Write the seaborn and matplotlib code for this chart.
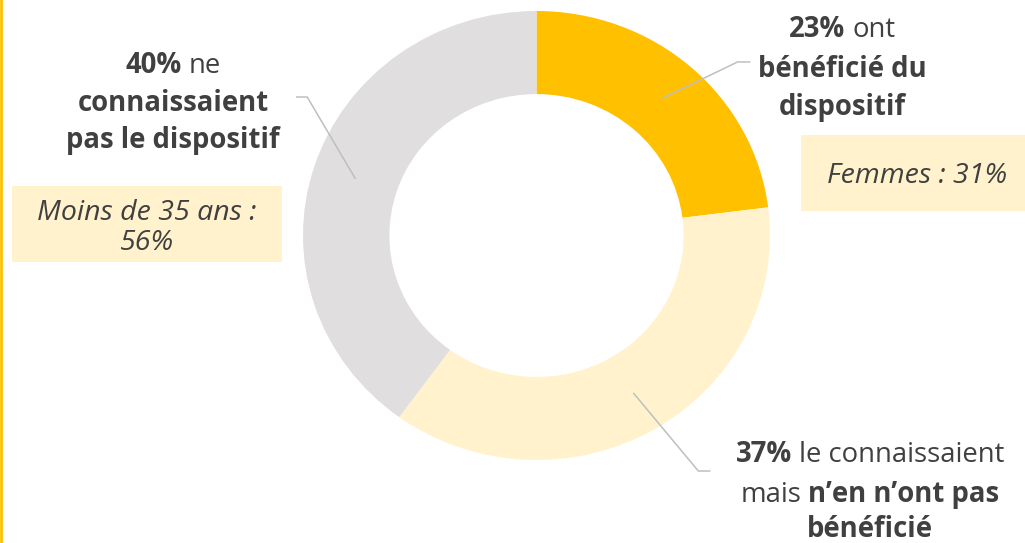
import matplotlib
matplotlib.use("Agg")
import matplotlib.pyplot as plt
import seaborn as sns
import numpy as np
from matplotlib.patches import Rectangle
from matplotlib.lines import Line2D

# ---- data ----
categories = ["Ont bénéficié du dispositif",
              "Le connaissaient mais n'en ont pas bénéficié",
              "Ne connaissaient pas le dispositif"]
values = [23, 37, 40]
colors = ["#FFC000", "#FFF2CC", "#E0DEDF"]

label_lines = [
    [[("23%", "bold"), (" ont", "normal")],
     [("bénéficié du", "bold")],
     [("dispositif", "bold")]],
    [[("37%", "bold"), (" le connaissaient", "normal")],
     [("mais ", "normal"), ("n’en n’ont pas", "bold")],
     [("bénéficié", "bold")]],
    [[("40%", "bold"), (" ne", "normal")],
     [("connaissaient", "bold")],
     [("pas le dispositif", "bold")]],
]
box_texts = ["Femmes : 31%", None, "Moins de 35 ans :\n56%"]

TXT = "#404040"
FONT = "Open Sans"

sns.set_theme(style="white")
plt.rcParams["font.family"] = [FONT, "DejaVu Sans"]

W, H = 1025, 543
fig = plt.figure(figsize=(W / 100, H / 100), dpi=100)
fig.patch.set_facecolor("white")

# donut axes (pixel placement)
cx, cy = 536.5, H - 235.5
rx, ry = 233.5, 224.5
ax = fig.add_axes([(cx - rx) / W, (cy - ry) / H, 2 * rx / W, 2 * ry / H])
wedges, _ = ax.pie(values, colors=colors, startangle=90, counterclock=False,
                   radius=1.0, wedgeprops=dict(width=0.37, linewidth=0))
ax.set_aspect("auto")
ax.set_xlim(-1, 1)
ax.set_ylim(-1, 1)
ax.axis("off")

# leader lines from wedge mid-angles
elbows = [((0.861, 0.773), 0.916), ((0.693, -1.049), 0.745), ((-0.982, 0.617), -1.03)]
for w, (elb, xend) in zip(wedges, elbows):
    mid = np.deg2rad((w.theta1 + w.theta2) / 2)
    r = 0.815
    p0 = (r * np.cos(mid), r * np.sin(mid))
    ax.plot([p0[0], elb[0], xend], [p0[1], elb[1], elb[1]],
            color="#BFBFBF", lw=1.1, solid_capstyle="butt", clip_on=False)

renderer = fig.canvas.get_renderer()
SIZE = 19.8
ISIZE = 20.5


def width_of(s, weight, size, style="normal"):
    t = fig.text(0, 0, s, fontsize=size, fontweight=weight, fontstyle=style,
                 transform=None)
    w = t.get_window_extent(renderer).width
    t.remove()
    return w


space_w = {}
for wt in ("normal", "bold"):
    space_w[wt] = width_of("a a", wt, SIZE) - width_of("aa", wt, SIZE)


def rich_line(xc, y_top, pieces, size=SIZE):
    y = H - y_top
    parts = []
    for s, wt in pieces:
        lead = len(s) - len(s.lstrip(" "))
        trail = len(s) - len(s.rstrip(" "))
        core = s.strip(" ")
        parts.append((lead * space_w[wt], core, wt, width_of(core, wt, size), trail * space_w[wt]))
    total = sum(a + w + b for a, _, _, w, b in parts)
    x = xc - total / 2
    for a, core, wt, w, b in parts:
        x += a
        fig.text(x, y, core, fontsize=size, fontweight=wt, color=TXT,
                 ha="left", va="baseline", transform=None)
        x += w + b


# label blocks: centers and baselines (pixels from top)
blocks = [(842, [37, 77, 115]), (870, [462, 502, 537]), (173, [73, 111, 148])]
for lines, (xc, bases) in zip(label_lines, blocks):
    for pieces, yb in zip(lines, bases):
        rich_line(xc, yb, pieces)

# highlighted boxes
boxes = [(801, 135, 224, 76, 917, [183]), None, (12, 186, 270, 76, 147, [220, 250])]
for bt, bx in zip(box_texts, boxes):
    if bt is None:
        continue
    x0, y0, bw, bh, xc, bases = bx
    fig.patches.append(Rectangle((x0, H - y0 - bh), bw, bh, transform=None,
                                 facecolor="#FFF2CC", edgecolor="none", zorder=0))
    for line, yb in zip(bt.split("\n"), bases):
        fig.text(xc, H - yb, line, fontsize=ISIZE, fontstyle="italic",
                 fontweight="normal", color=TXT,
                 ha="center", va="baseline", transform=None)

# gold border on the left edge
fig.add_artist(Line2D([1 / W, 1 / W], [0, 1], color="#FFC000", lw=2,
                      transform=fig.transFigure))

fig.savefig("out.png", dpi=100, facecolor="white")
